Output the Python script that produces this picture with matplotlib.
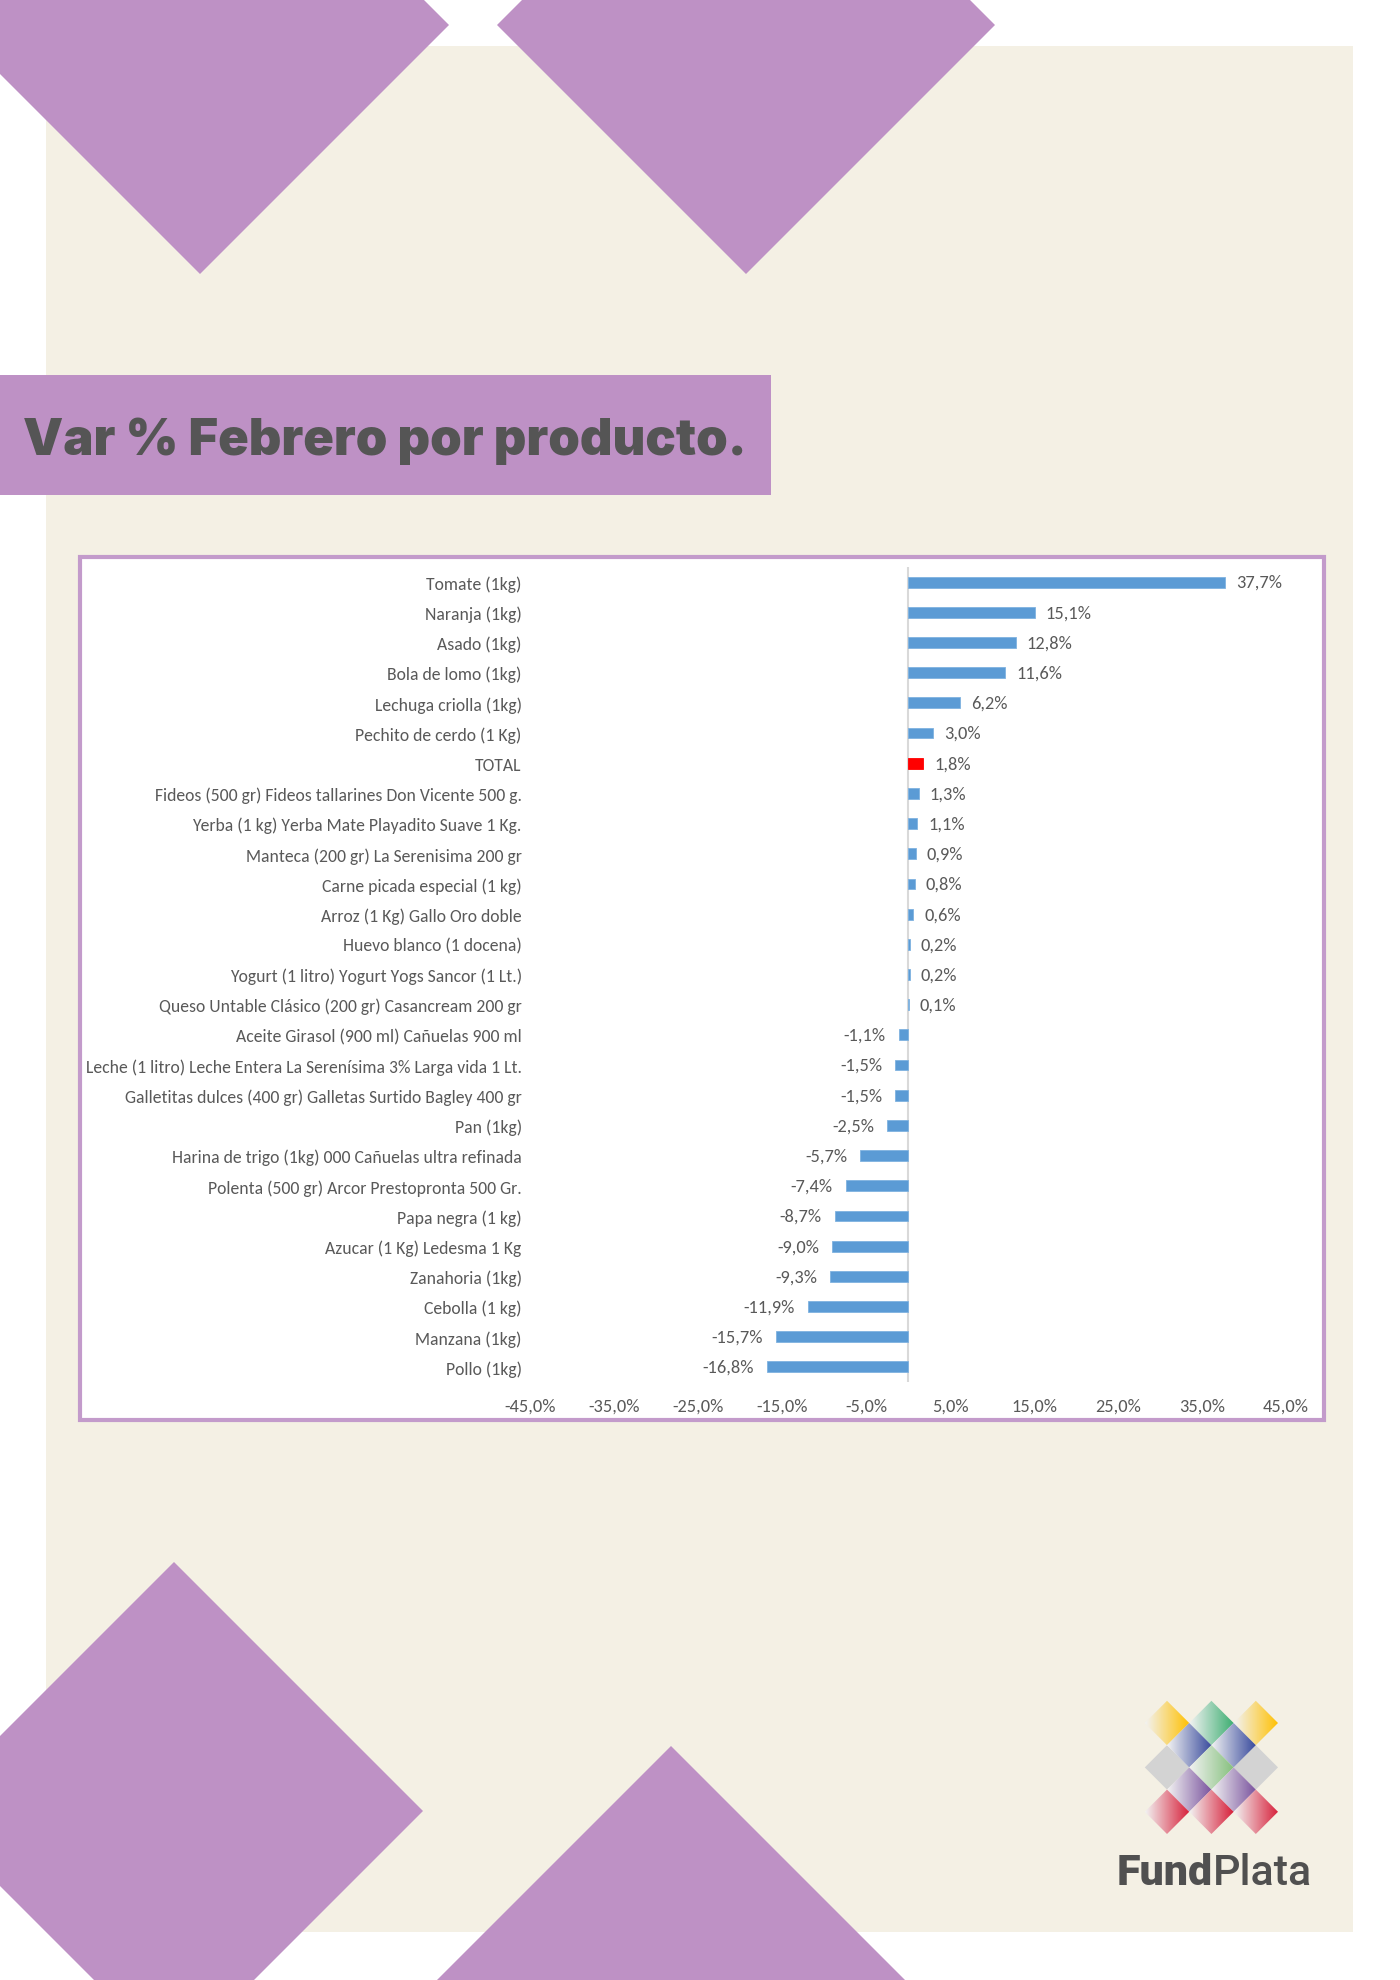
import matplotlib
matplotlib.use("Agg")
import matplotlib.pyplot as plt
import numpy as np
from matplotlib import font_manager
from matplotlib.patches import Polygon, Rectangle

# ---------------- data ----------------
categories = [
    "Tomate (1kg)", "Naranja (1kg)", "Asado (1kg)", "Bola de lomo (1kg)",
    "Lechuga criolla (1kg)", "Pechito de cerdo (1 Kg)", "TOTAL",
    "Fideos (500 gr) Fideos tallarines Don Vicente 500 g.",
    "Yerba (1 kg) Yerba Mate Playadito Suave 1 Kg.",
    "Manteca (200 gr) La Serenisima 200 gr",
    "Carne picada especial (1 kg)", "Arroz (1 Kg) Gallo Oro doble",
    "Huevo blanco (1 docena)", "Yogurt (1 litro) Yogurt Yogs Sancor (1 Lt.)",
    "Queso Untable Clásico (200 gr) Casancream 200 gr",
    "Aceite Girasol (900 ml) Cañuelas 900 ml",
    "Leche (1 litro) Leche Entera La Serenísima 3% Larga vida 1 Lt.",
    "Galletitas dulces (400 gr) Galletas Surtido Bagley 400 gr",
    "Pan (1kg)", "Harina de trigo (1kg) 000 Cañuelas ultra refinada",
    "Polenta (500 gr) Arcor Prestopronta 500 Gr.", "Papa negra (1 kg)",
    "Azucar (1 Kg) Ledesma 1 Kg", "Zanahoria (1kg)", "Cebolla (1 kg)",
    "Manzana (1kg)", "Pollo (1kg)",
]
values = [37.7, 15.1, 12.8, 11.6, 6.2, 3.0, 1.8, 1.3, 1.1, 0.9, 0.8, 0.6,
          0.2, 0.2, 0.1, -1.1, -1.5, -1.5, -2.5, -5.7, -7.4, -8.7, -9.0,
          -9.3, -11.9, -15.7, -16.8]
highlight = "TOTAL"
xticks = [-45, -35, -25, -15, -5, 5, 15, 25, 35, 45]
title = "Var % Febrero por producto."

# ---------------- fonts ----------------
avail = {f.name for f in font_manager.fontManager.ttflist}
def pick(cands):
    for c in cands:
        if c in avail:
            return c
    return "DejaVu Sans"
label_font = pick(["Carlito", "Liberation Sans Narrow", "Open Sans", "Lato", "DejaVu Sans"])
title_font = pick(["Inter", "Roboto", "Lato", "DejaVu Sans"])
logo_font = pick(["Roboto", "Lato", "DejaVu Sans"])

W, H = 1400, 1981
PURPLE = "#BE91C5"
CREAM = "#F4F0E4"
BLUE = "#5B9BD5"
TXT = "#595959"

fig = plt.figure(figsize=(W / 100, H / 100), dpi=100)
fig.patch.set_facecolor("white")

bg = fig.add_axes([0, 0, 1, 1])
bg.set_xlim(0, W)
bg.set_ylim(H, 0)
bg.axis("off")

# cream page
bg.add_patch(Rectangle((46, 47), 1353 - 46, 1933 - 47, facecolor=CREAM, edgecolor="none", zorder=0))

def diamond(cx, cy, h, **kw):
    return Polygon([(cx - h, cy), (cx, cy - h), (cx + h, cy), (cx, cy + h)], closed=True, **kw)

for cx, cy in [(200, 26), (746, 26), (174, 1812), (671, 1996)]:
    bg.add_patch(diamond(cx, cy, 249, facecolor=PURPLE, edgecolor="none", zorder=1))

# title bar
bg.add_patch(Rectangle((0, 376), 771, 120, facecolor=PURPLE, edgecolor="none", zorder=2))
bg.text(23, 455, title, fontsize=36.5, fontweight="black", family=title_font,
        color="#555555", ha="left", va="baseline", zorder=3)

# chart box
bg.add_patch(Rectangle((80, 558), 1244, 863, facecolor="white", edgecolor="#C39BCB",
                       linewidth=3.0, zorder=2))

# logo diamonds
logo_cells = [
    (0, 0, "#FFC000"), (2, 0, "#3DAE72"), (4, 0, "#FFC000"),
    (1, 1, "#3A4C9E"), (3, 1, "#3A4C9E"),
    (0, 2, None), (2, 2, "#86C07E"), (4, 2, None),
    (1, 3, "#7B559F"), (3, 3, "#7B559F"),
    (0, 4, "#D7203A"), (2, 4, "#D7203A"), (4, 4, "#D7203A"),
]
lx0, ly0, lh = 1167, 1724, 22.2
grad = np.linspace(0, 1, 64)[None, :]
for i, j, col in logo_cells:
    cx, cy = lx0 + i * lh, ly0 + j * lh
    poly = diamond(cx, cy, lh, facecolor="#D3D3D3" if col is None else "none",
                   edgecolor="none", zorder=4)
    bg.add_patch(poly)
    if col is not None:
        rgb = np.array(matplotlib.colors.to_rgb(col))
        img = (1 - grad[..., None]) * np.array([1, 1, 1]) * 0.95 + grad[..., None] * rgb
        img = img * np.ones((2, 1, 1))
        im = bg.imshow(img, extent=(cx - lh, cx + lh, cy + lh, cy - lh), zorder=5,
                       aspect="auto", interpolation="bilinear")
        im.set_clip_path(poly)
bg.set_xlim(0, W)
bg.set_ylim(H, 0)

t1 = bg.text(1117, 1885, "Fund", fontsize=31, fontweight="heavy", family=logo_font,
             color="#505050", ha="left", va="baseline", zorder=6)
bg.annotate("Plata", xy=(1, 0), xycoords=t1, xytext=(0, 0), textcoords="offset pixels",
            fontsize=31, fontweight="medium", family=logo_font, color="#505050",
            ha="left", va="bottom", zorder=6)

# ---------------- chart ----------------
x0, x1, ytop, ybot = 530, 1286, 568, 1383
ax = fig.add_axes([x0 / W, 1 - ybot / H, (x1 - x0) / W, (ybot - ytop) / H])
ax.set_facecolor("none")
n = len(categories)
ypos = np.arange(n)
colors = ["#FF0000" if c == highlight else BLUE for c in categories]
edges = ["#FF0000" if c == highlight else "#7FB2E0" for c in categories]
ax.barh(ypos, values, height=0.36, color=colors, edgecolor=edges, linewidth=0.6, zorder=3)
ax.set_xlim(-45, 45)
ax.set_ylim(n - 0.5, -0.5)
ax.axvline(0, color="#D9D9D9", linewidth=1.5, zorder=2)
for s in ax.spines.values():
    s.set_visible(False)
ax.set_yticks(ypos)
ax.set_yticklabels(categories, family=label_font, fontsize=12.7, color=TXT)
ax.set_xticks(xticks)
ax.set_xticklabels([f"{v:.1f}%".replace(".", ",") for v in xticks], family=label_font,
                   fontsize=13.2, color=TXT)
ax.tick_params(axis="y", length=0, pad=6)
ax.tick_params(axis="x", length=0, pad=11.5)

for y, v in zip(ypos, values):
    lab = f"{v:.1f}%".replace(".", ",")
    if v >= 0:
        ax.annotate(lab, xy=(v, y), xytext=(11, 0), textcoords="offset pixels",
                    ha="left", va="center", family=label_font, fontsize=13.2, color=TXT)
    else:
        ax.annotate(lab, xy=(v, y), xytext=(-13, 0), textcoords="offset pixels",
                    ha="right", va="center", family=label_font, fontsize=13.2, color=TXT)

fig.savefig("out.png", dpi=100, facecolor="white")
